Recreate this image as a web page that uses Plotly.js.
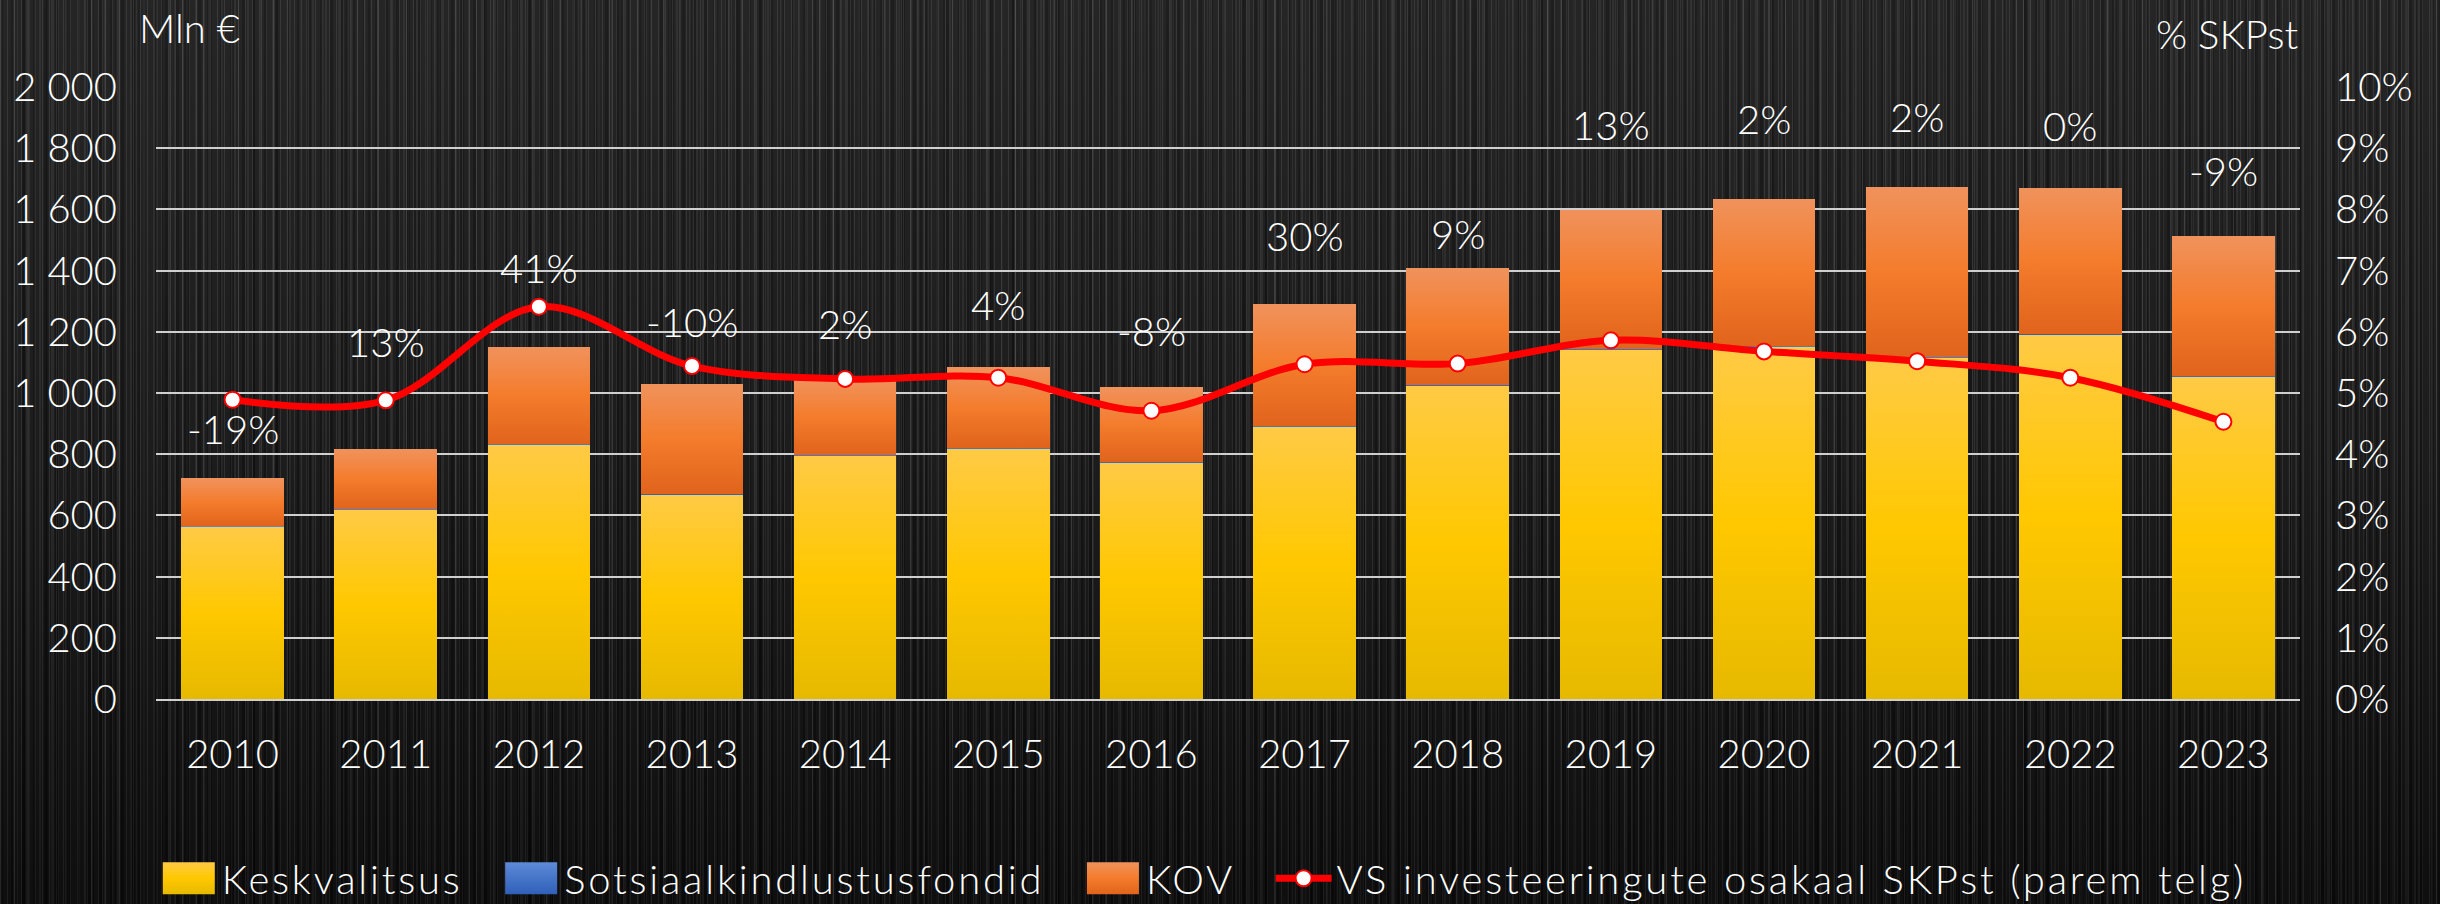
<!DOCTYPE html>
<html>
<head>
<meta charset="utf-8">
<script src="https://cdn.plot.ly/plotly-3.0.1.min.js"></script>
<style>
html,body{margin:0;padding:0;width:2440px;height:904px;overflow:hidden;}
body{
  background-color:#151515;
  background-image:
    linear-gradient(to bottom, rgba(255,255,255,0.07), rgba(255,255,255,0.03) 50%, rgba(0,0,0,0.3)),
    repeating-linear-gradient(90deg, rgba(255,255,255,0.09) 0 1px, transparent 1px 7px),
    repeating-linear-gradient(90deg, rgba(255,255,255,0.06) 0 2px, transparent 2px 13px),
    repeating-linear-gradient(90deg, rgba(0,0,0,0.4) 0 3px, transparent 3px 11px),
    repeating-linear-gradient(90deg, rgba(255,255,255,0.06) 0 1px, transparent 1px 17px),
    repeating-linear-gradient(90deg, rgba(0,0,0,0.35) 0 2px, transparent 2px 23px),
    repeating-linear-gradient(90deg, rgba(255,255,255,0.05) 0 1px, transparent 1px 29px);
}
#chart{width:2440px;height:904px;}
text.legendtext{letter-spacing:2.8px;}
</style>
</head>
<body>
<div id="chart"></div>
<script>
const years = [2010, 2011, 2012, 2013, 2014, 2015, 2016, 2017, 2018, 2019, 2020, 2021, 2022, 2023];
const keskvalitsus = [561, 617, 830, 668, 794, 817, 772, 889, 1024, 1141, 1150, 1114, 1191, 1053];
const sotsiaal = [3, 3, 3, 3, 3, 3, 3, 3, 3, 3, 3, 3, 3, 3];
const kov = [157, 197, 317, 357, 249, 264, 244, 398, 381, 454, 481, 556, 476, 456];
const osakaalSKP = [4.89, 4.88, 6.41, 5.44, 5.23, 5.25, 4.71, 5.47, 5.48, 5.86, 5.68, 5.52, 5.25, 4.53];
const growthLabels = ['-19%','13%','41%','-10%','2%','4%','-8%','30%','9%','13%','2%','2%','0%','-9%'];
const growthLabelY = [884, 1166, 1410, 1231, 1226, 1287, 1203, 1512, 1520, 1875, 1895, 1902, 1872, 1725];
const seriesNames = ['Keskvalitsus', 'Sotsiaalkindlustusfondid', 'KOV', 'VS investeeringute osakaal SKPst (parem telg)'];

const FONT = 'Lato, "Open Sans", sans-serif';
const WHITE = '#ffffff';
const F = {family:FONT, size:40, color:WHITE, weight:300};
const GAP = '\u2002\u2009';

const traces = [
  {type:'bar', name:seriesNames[0]+GAP, x:years, y:keskvalitsus, marker:{color:'#ffc800'}},
  {type:'bar', name:seriesNames[1]+GAP, x:years, y:sotsiaal, marker:{color:'#4472c4'}},
  {type:'bar', name:seriesNames[2]+GAP, x:years, y:kov, marker:{color:'#f47c2c'}},
  {type:'scatter', mode:'lines+markers', name:seriesNames[3],
   x:years, y:osakaalSKP, yaxis:'y2',
   line:{color:'#ff0000', width:7, shape:'spline', smoothing:1},
   marker:{color:'#ffffff', size:16, line:{color:'#ff0000', width:2}}}
];

const annotations = years.map((yr,i)=>({
  x:yr, y:growthLabelY[i], xref:'x', yref:'y', text:growthLabels[i], showarrow:false,
  font:F, xanchor:'center', yanchor:'middle'
}));
annotations.push({xref:'paper', yref:'paper', x:-0.0089, y:1.096, xanchor:'left', yanchor:'middle',
  text:'Mln €', showarrow:false, font:F});
annotations.push({xref:'paper', yref:'paper', x:1, y:1.087, xanchor:'right', yanchor:'middle',
  text:'% SKPst', showarrow:false, font:F});

const layout = {
  width:2440, height:904,
  paper_bgcolor:'rgba(0,0,0,0)', plot_bgcolor:'rgba(0,0,0,0)',
  margin:{l:156, r:140, t:87, b:205, autoexpand:false},
  separators:', ',
  barmode:'stack', bargap:0.33,
  font:F,
  showlegend:true,
  legend:{orientation:'h', x:-0.0001, xanchor:'left', y:-0.293, yanchor:'middle',
    font:F, bgcolor:'rgba(0,0,0,0)', itemwidth:56, traceorder:'normal'},
  xaxis:{type:'linear', range:[2009.5, 2023.5], dtick:1, tick0:2010, tickformat:'d', showgrid:false, zeroline:false,
    showline:true, linecolor:'#d0d0d0', linewidth:2,
    ticks:'', ticklabelstandoff:19, tickfont:F},
  yaxis:{range:[0,2000], dtick:200, showgrid:true, gridcolor:'#cfcfcf', gridwidth:2, zeroline:false,
    separatethousands:true, tickformat:',d', ticks:'', ticklabelstandoff:38, tickfont:F},
  yaxis2:{overlaying:'y', side:'right', range:[0,10], dtick:1, ticksuffix:'%', showgrid:false, zeroline:false,
    ticks:'', ticklabelstandoff:34, tickfont:F},
  annotations:annotations
};

Plotly.newPlot('chart', traces, layout, {staticPlot:true, displayModeBar:false}).then(gd=>{
  const svgNS = 'http://www.w3.org/2000/svg';
  const svg = gd.querySelector('svg.main-svg');
  const defs = document.createElementNS(svgNS,'defs');
  const grads = {
    gY:[['0%','#ffca45'],['50%','#ffc800'],['100%','#e6b900']],
    gB:[['0%','#5d8bd8'],['100%','#2f5fb8']],
    gO:[['0%','#f0925c'],['50%','#f47c2c'],['100%','#e0641c']]
  };
  for (const id in grads){
    const lg = document.createElementNS(svgNS,'linearGradient');
    lg.setAttribute('id', id); lg.setAttribute('x1','0'); lg.setAttribute('y1','0');
    lg.setAttribute('x2','0'); lg.setAttribute('y2','1');
    grads[id].forEach(([o,c])=>{
      const s = document.createElementNS(svgNS,'stop');
      s.setAttribute('offset',o); s.setAttribute('stop-color',c); lg.appendChild(s);
    });
    defs.appendChild(lg);
  }
  svg.insertBefore(defs, svg.firstChild);
  const ids = ['gY','gB','gO'];
  gd.querySelectorAll('.barlayer .trace').forEach((t,i)=>{
    t.querySelectorAll('path').forEach(p=>{ p.style.fill = 'url(#'+ids[i]+')'; });
  });
  gd.querySelectorAll('.legend .traces').forEach((t,i)=>{
    if (i<3){
      t.querySelectorAll('.legendpoints path').forEach(p=>{
        p.setAttribute('d','M26,16H-26V-16H26Z');
        p.style.fill = 'url(#'+ids[i]+')';
        p.style.stroke = 'none';
      });
    }
  });
});
</script>
</body>
</html>
